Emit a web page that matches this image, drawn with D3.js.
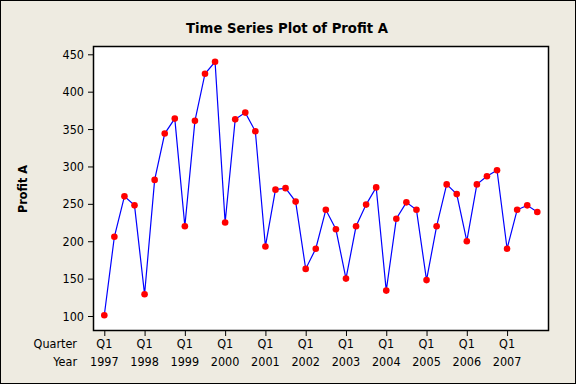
<!DOCTYPE html>
<html><head><meta charset="utf-8">
<script src="https://cdn.jsdelivr.net/npm/d3@7"></script>
<style>
html,body{margin:0;padding:0;background:#EEEBE1;}
svg{display:block;}
text{font-family:"DejaVu Sans Condensed","DejaVu Sans",Verdana,sans-serif;fill:#000;}
</style></head>
<body>
<script>
const years = [1997,1998,1999,2000,2001,2002,2003,2004,2005,2006,2007];
const quarters = ["Q1","Q2","Q3","Q4"];
const profitA = [
  101,206,260,248, 129,282,344,364, 220,361,424,440,
  225,363,372,347, 193,269,271,253, 163,190,242,216,
  150,220,249,272, 134,230,252,242, 148,220,276,263,
  200,276,287,295, 190,242,248,239
];
const yTicks = [100,150,200,250,300,350,400,450];

const W = 576, H = 384;
const svg = d3.select("body").append("svg").attr("width", W).attr("height", H);
svg.append("rect").attr("x",0.5).attr("y",0.5).attr("width",W-1).attr("height",H-1)
  .attr("fill","#EEEBE1").attr("stroke","#000").attr("stroke-width",1);

const frame = {x0: 93.5, x1: 548.5, y0: 46.5, y1: 330.5};
const x = d3.scaleLinear().domain([0, profitA.length-1]).range([104.3, 537.3]);
const y = d3.scaleLinear().domain([100,450]).range([316, 54.3]);

svg.append("rect").attr("x",frame.x0).attr("y",frame.y0)
  .attr("width",frame.x1-frame.x0).attr("height",frame.y1-frame.y0)
  .attr("fill","#fff").attr("stroke","#000").attr("stroke-width",1.5);

// Y axis
const yAxis = d3.axisLeft(y).tickValues(yTicks).tickSize(5).tickPadding(4);
const gy = svg.append("g").attr("transform",`translate(${frame.x0-0.5},0)`).call(yAxis);
gy.select(".domain").remove();
gy.selectAll("text").attr("font-family",null).style("font-size","12.5px");
gy.selectAll("line").attr("stroke","#000");

// X axis ticks at Q1 each year
const q1Idx = years.map((yr,i)=>i*4);
const xAxis = d3.axisBottom(x).tickValues(q1Idx).tickSize(5).tickFormat(()=>"");
const gx = svg.append("g").attr("transform",`translate(0,${frame.y1+0.5})`).call(xAxis);
gx.select(".domain").remove();
gx.selectAll("line").attr("stroke","#000");

const lab = svg.append("g");
lab.selectAll("text.q").data(q1Idx).enter().append("text")
  .attr("x",d=>x(d)).attr("y",348).attr("text-anchor","middle")
  .style("font-size","12.5px").text(d=>quarters[d%4]);
lab.selectAll("text.yr").data(q1Idx).enter().append("text")
  .attr("x",d=>x(d)).attr("y",366).attr("text-anchor","middle")
  .style("font-size","12.5px").text(d=>years[d/4]);
lab.append("text").attr("x",77).attr("y",348).attr("text-anchor","end").style("font-size","12.5px").text("Quarter");
lab.append("text").attr("x",77).attr("y",366).attr("text-anchor","end").style("font-size","12.5px").text("Year");

// Line
const line = d3.line().x((d,i)=>x(i)).y(d=>y(d));
svg.append("path").datum(profitA).attr("d",line)
  .attr("fill","none").attr("stroke","#0000FF").attr("stroke-width",1.2);
svg.selectAll("circle.pt").data(profitA).enter().append("circle")
  .attr("cx",(d,i)=>x(i)).attr("cy",d=>y(d)).attr("r",3.3).attr("fill","#FF0000");

// Titles
const title = svg.append("text").attr("x",287).attr("y",33).attr("text-anchor","middle")
  .style("font-size","15px").style("font-weight","bold").text("Time Series Plot of Profit A");
const tl = title.node().getComputedTextLength();
if (tl > 0) title.style("font-size", (15*202/tl).toFixed(2)+"px");
svg.append("text").attr("transform","translate(27,189) rotate(-90)").attr("text-anchor","middle")
  .style("font-size","12.5px").style("font-weight","bold").text("Profit A");
</script>
</body></html>
